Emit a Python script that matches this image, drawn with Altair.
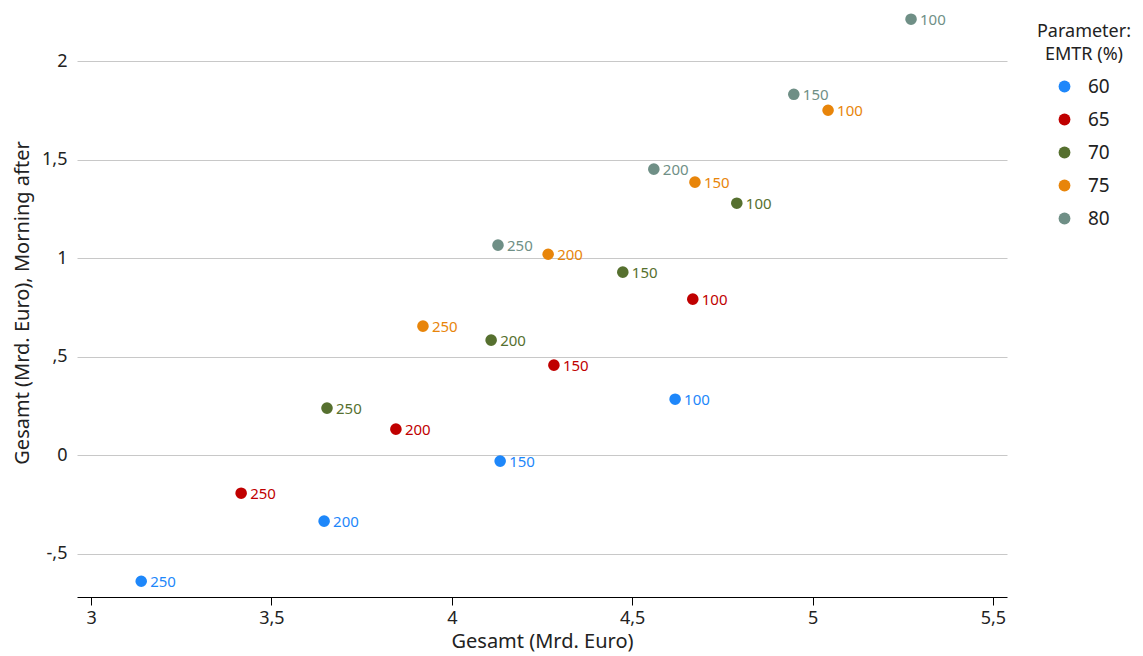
import altair as alt
import pandas as pd

emtr = ["60"] * 4 + ["65"] * 4 + ["70"] * 4 + ["75"] * 4 + ["80"] * 4
param = ["100", "150", "200", "250"] * 5
gesamt = [4.619, 4.134, 3.646, 3.139,
          4.668, 4.283, 3.845, 3.416,
          4.790, 4.474, 4.109, 3.654,
          5.043, 4.674, 4.267, 3.920,
          5.273, 4.948, 4.560, 4.128]
morning = [0.284, -0.030, -0.335, -0.640,
           0.792, 0.457, 0.132, -0.193,
           1.279, 0.929, 0.584, 0.239,
           1.751, 1.386, 1.020, 0.655,
           2.213, 1.832, 1.452, 1.066]

groups = ["60", "65", "70", "75", "80"]
colors = ["#1E87FA", "#C00000", "#56702F", "#E8850A", "#6F8F86"]
legend_title = ["Parameter:", "EMTR (%)"]

df = pd.DataFrame({"emtr": emtr, "param": param, "x": gesamt, "y": morning})
title_df = pd.DataFrame({"t": legend_title, "row": [0, 1]})

FONT = "Noto Sans"
W, H = 930, 589

color = alt.Color("emtr:N", scale=alt.Scale(domain=groups, range=colors),
                  legend=alt.Legend(title=None, orient="none", legendX=978, legendY=69,
                                    labelFontSize=19, labelColor="#222",
                                    symbolType="circle", symbolSize=140, symbolStrokeWidth=0,
                                    rowPadding=13, labelOffset=14))

fmt = ("(datum.value < 0 ? '-' : '') + "
       "replace(replace(format(abs(datum.value), '.1~f'), '.', ','), /^0,/, ',')")

x = alt.X("x:Q", scale=alt.Scale(domain=[2.961, 5.539], nice=False, zero=False),
          axis=alt.Axis(title="Gesamt (Mrd. Euro)", values=[3, 3.5, 4, 4.5, 5, 5.5],
                        labelExpr=fmt, grid=False, domainColor="#000", tickColor="#000",
                        tickSize=8, labelFontSize=18, titleFontSize=20, titleFontWeight="normal",
                        labelColor="#222", titleColor="#222", labelPadding=4, titlePadding=4))
y = alt.Y("y:Q", scale=alt.Scale(domain=[-0.72, 2.27], nice=False, zero=False),
          axis=alt.Axis(title="Gesamt (Mrd. Euro), Morning after", values=[-0.5, 0, 0.5, 1, 1.5, 2],
                        labelExpr=fmt, grid=True, gridColor="#c8c8c8", domain=False, ticks=False,
                        labelFontSize=18, titleFontSize=20, titleFontWeight="normal",
                        labelColor="#222", titleColor="#222", labelPadding=10, titlePadding=9))

base = alt.Chart(df)
pts = base.mark_circle(size=135, opacity=1).encode(x=x, y=y, color=color)
txt = base.mark_text(align="left", baseline="middle", dx=9, dy=1, fontSize=15, font=FONT).encode(
    x="x:Q", y="y:Q", text="param:N", color=alt.Color("emtr:N", legend=None))

title_layers = []
for i in range(len(legend_title)):
    title_layers.append(
        alt.Chart(title_df).transform_filter(alt.datum.row == i)
        .mark_text(align="center", baseline="middle", fontSize=18, font=FONT, color="#222")
        .encode(x=alt.value(1007), y=alt.value(24 + 23 * i), text="t:N"))

chart = alt.layer(pts, txt, *title_layers).properties(
    width=W, height=H, padding={"left": 4, "top": 0, "right": 0, "bottom": 2}).configure(
    font=FONT).configure_view(stroke=None)

chart.save("out.html", embed_options={"renderer": "svg", "actions": False})
